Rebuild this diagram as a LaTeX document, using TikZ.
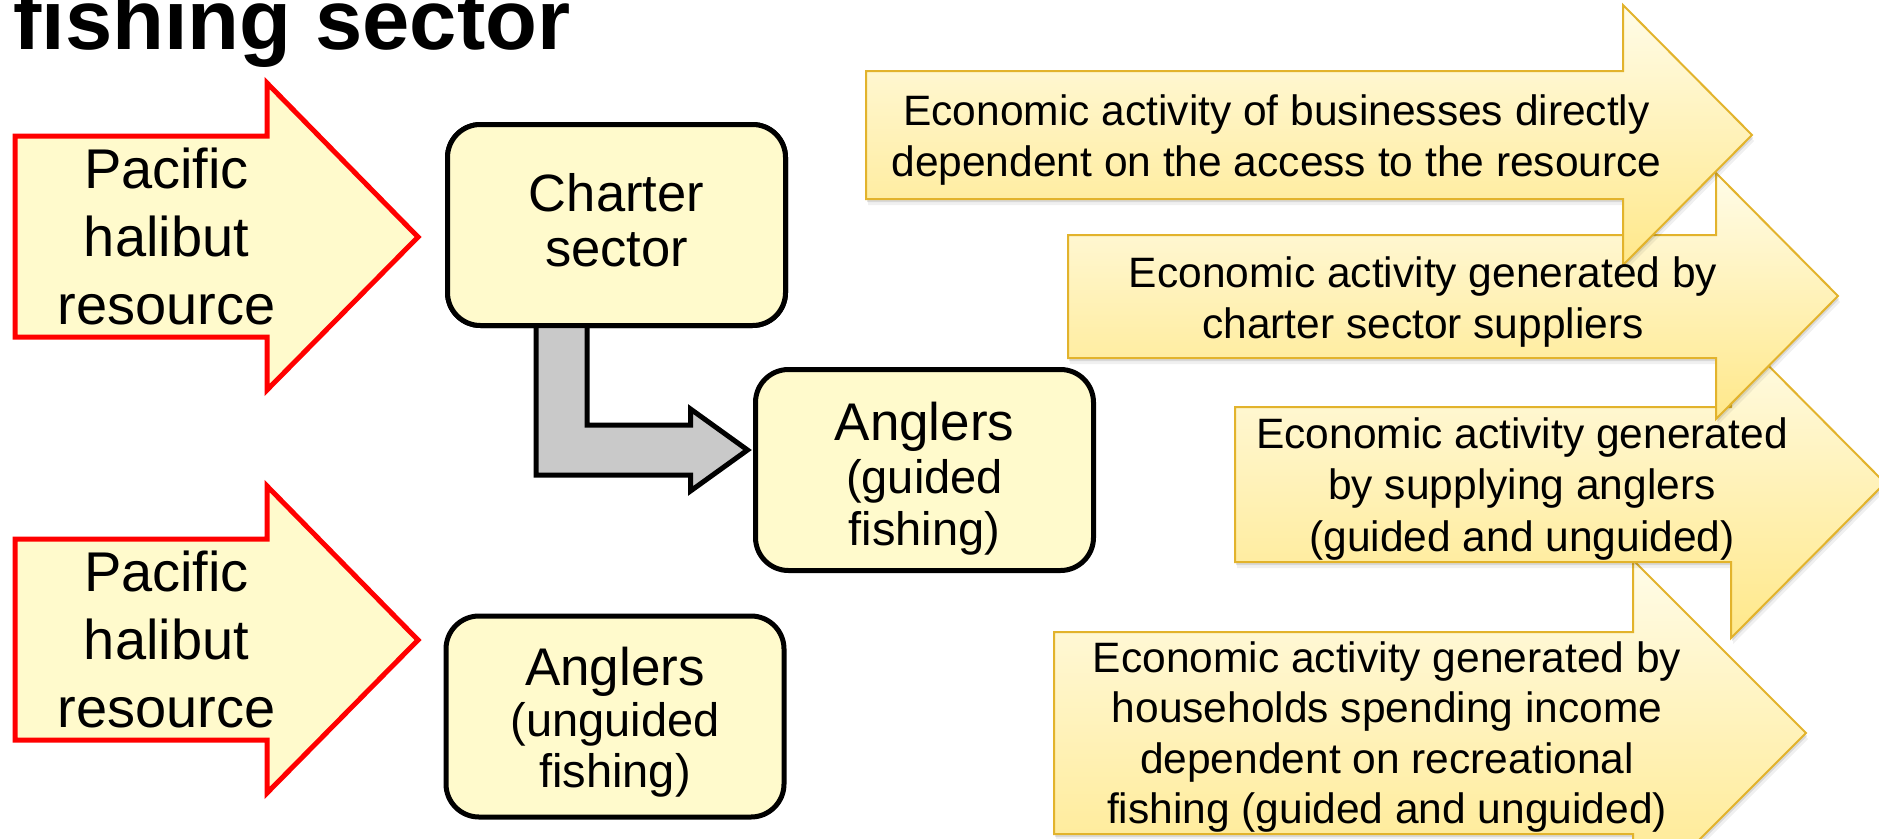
\documentclass[tikz,border=0pt]{standalone}
\usepackage{fontspec}
\setmainfont{Liberation Sans}
\usetikzlibrary{calc}
\definecolor{boxfill}{HTML}{FFFACC}
\definecolor{grayarrow}{HTML}{C9C9C9}
\definecolor{goldline}{HTML}{E2B32C}
\definecolor{ytop}{HTML}{FFFCE8}
\definecolor{ymid}{HTML}{FFF4B8}
\definecolor{ybot}{HTML}{FFE88A}
% block arrow: xl, shaft top, shaft bottom, head base x, head top, head bottom, tip x, tip y
\newcommand\blockpath[8]{(#1,#2) -- (#4,#2) -- (#4,#5) -- (#7,#8) -- (#4,#6) -- (#4,#3) -- (#1,#3) -- cycle}
\newcommand\mlines[1]{\vtop{\halign{\hfil##\hfil\cr#1\crcr}}}
\tikzset{
  redarrow/.style={draw=red, line width=5pt, fill=boxfill, line join=miter},
  goldarrow/.style={draw=goldline, line width=2pt, line join=miter, top color=ytop, middle color=ymid, bottom color=ybot},
  softshadow/.style={fill=black, opacity=0.10},
  softshadowb/.style={fill=black, opacity=0.06},
  grayconn/.style={draw=black, line width=5pt, fill=grayarrow, line join=miter},
  roundbox/.style={draw=black, line width=5pt, fill=boxfill, rounded corners=33pt, minimum width=338pt, minimum height=201pt, inner sep=0pt},
  redtext/.style={anchor=base, inner sep=0pt, font=\fontsize{56}{68}\selectfont},
  boxtext/.style={anchor=base, inner sep=0pt, font=\fontsize{52.5}{55}\selectfont},
  anglertext/.style={anchor=base, inner sep=0pt, font=\fontsize{47}{52.5}\selectfont},
  econtext/.style={anchor=base, inner sep=0pt, font=\fontsize{42.5}{51.5}\selectfont},
  titletext/.style={anchor=base west, inner sep=0pt, font=\bfseries\fontsize{85}{90}\selectfont}
}
\begin{document}
\begin{tikzpicture}[x=1pt,y=-1pt]
\useasboundingbox (0,0) rectangle (1879,838);
\clip (0,0) rectangle (1879,838);

% title (cut off at top, as in the reference)
\node[titletext] (title) at (13,49) {fishing sector};

% red resource arrows
\path[redarrow] \blockpath{15}{136}{337}{267}{83}{390}{418}{237};
\node[redtext] (res1) at (166.5,188) {\mlines{Pacific\cr halibut\cr resource}};
\path[redarrow] \blockpath{15}{539}{740}{267}{486}{793}{418}{640};
\node[redtext] (res2) at (166.5,591) {\mlines{Pacific\cr halibut\cr resource}};

% boxes
\node[roundbox] (charter) at (616.5,225) {};
\node[roundbox] (guided) at (924.5,470) {};
\node[roundbox] (unguided) at (615,716.5) {};

% gray L-shaped connector charter -> guided anglers
\coordinate (gtip) at ($(guided.west)+(-5.5,-20)$);
\coordinate (gl) at ($(charter.south)+(-80.5,-6)$);
\coordinate (gr) at ($(charter.south)+(-29.5,-6)$);
\coordinate (gb) at ($(gtip)+(-57,25)$);
\coordinate (gt) at ($(gtip)+(-57,-25)$);
\coordinate (gbb) at ($(gtip)+(-57,41)$);
\coordinate (gtt) at ($(gtip)+(-57,-41)$);
\path[grayconn] (gl) -- (gl |- gb) -- (gb) -- (gbb) -- (gtip) -- (gtt) -- (gt) -- (gr |- gt) -- (gr) -- cycle;

% redraw charter box above connector
\node[roundbox] (charterTop) at (charter.center) {};
\node[boxtext] (chartertext) at ($(charter.north)+(0,89)$) {\mlines{Charter\cr sector}};
\node[anglertext] (guidedtext) at ($(guided.north)+(0,73.5)$) {\mlines{{\fontsize{53}{53}\selectfont Anglers}\cr (guided\cr fishing)}};
\node[anglertext, font=\fontsize{47}{51}\selectfont] (unguidedtext) at ($(unguided.north)+(0,71.5)$) {\mlines{{\fontsize{53}{53}\selectfont Anglers}\cr (unguided\cr fishing)}};

% economic activity arrows (bottom to top in stacking order)
\fill[softshadowb, shift={(2,6)}] \blockpath{1054}{632}{834}{1633}{560}{906}{1806}{733};
\fill[softshadow, shift={(1,3)}] \blockpath{1054}{632}{834}{1633}{560}{906}{1806}{733};
\path[goldarrow] \blockpath{1054}{632}{834}{1633}{560}{906}{1806}{733};

\fill[softshadowb, shift={(2,6)}] \blockpath{1235}{407}{562}{1731}{328}{638}{1885}{483};
\fill[softshadow, shift={(1,3)}] \blockpath{1235}{407}{562}{1731}{328}{638}{1885}{483};
\path[goldarrow] \blockpath{1235}{407}{562}{1731}{328}{638}{1885}{483};

\fill[softshadowb, shift={(2,6)}] \blockpath{1068}{235}{358}{1716}{173}{419}{1838}{296};
\fill[softshadow, shift={(1,3)}] \blockpath{1068}{235}{358}{1716}{173}{419}{1838}{296};
\path[goldarrow] \blockpath{1068}{235}{358}{1716}{173}{419}{1838}{296};

\fill[softshadowb, shift={(2,6)}] \blockpath{866}{71}{199}{1623}{5}{265}{1752}{135};
\fill[softshadow, shift={(1,3)}] \blockpath{866}{71}{199}{1623}{5}{265}{1752}{135};
\path[goldarrow] \blockpath{866}{71}{199}{1623}{5}{265}{1752}{135};

% texts of the economic activity arrows
\node[econtext] (ecoA) at (1276.5,125) {\mlines{Economic activity of businesses directly\cr dependent on the access to the resource}};
\node[econtext] (ecoB) at (1423,287) {\mlines{Economic activity generated by\cr charter sector suppliers}};
\node[econtext] (ecoC) at (1522,448) {\mlines{Economic activity generated\cr by supplying anglers\cr (guided and unguided)}};
\node[econtext, font=\fontsize{42.5}{50.5}\selectfont] (ecoD) at (1387,672) {\mlines{Economic activity generated by\cr households spending income\cr dependent on recreational\cr fishing (guided and unguided)}};
\end{tikzpicture}
\end{document}
